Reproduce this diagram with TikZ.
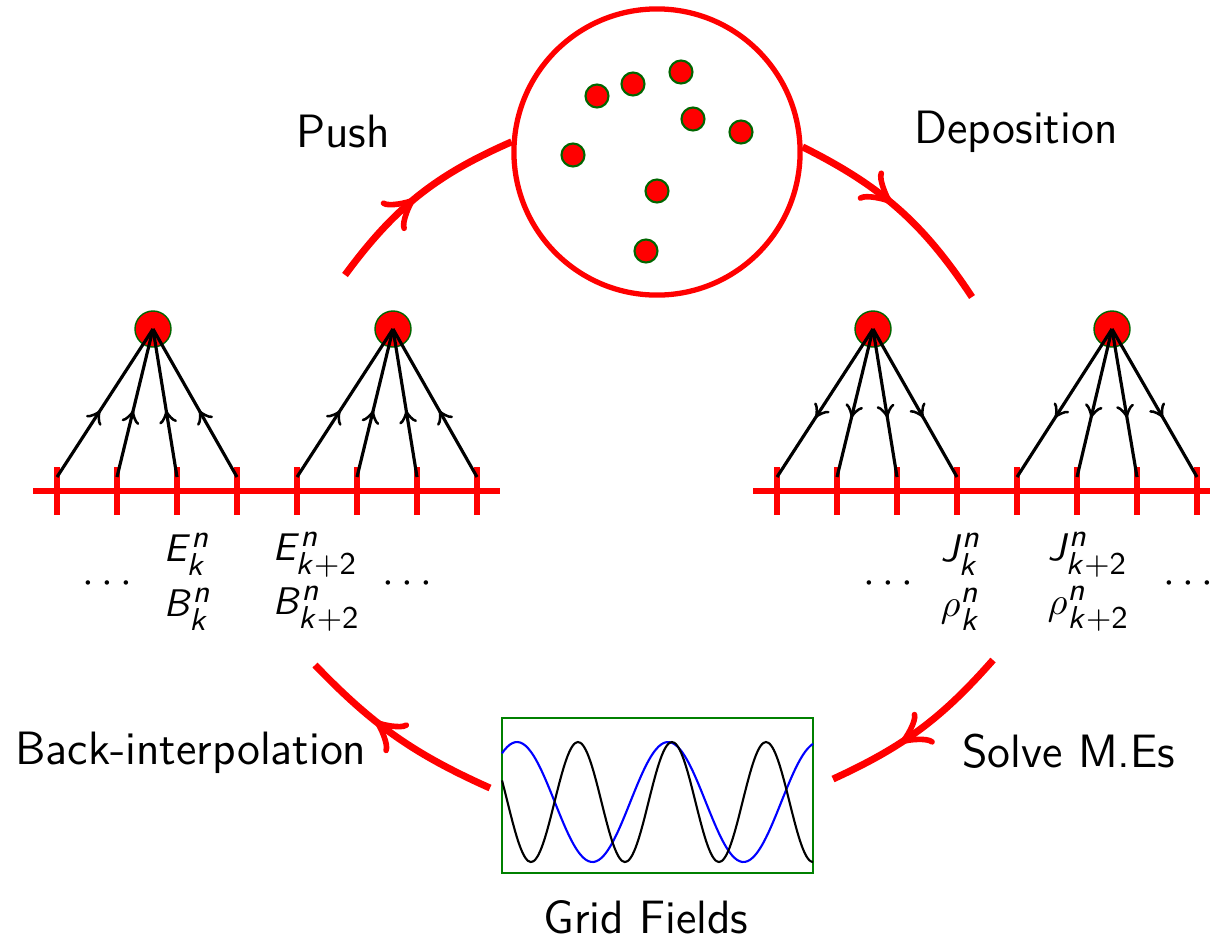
\documentclass[tikz,border=0pt]{standalone}
\usepackage{amsmath}
\usepackage{tikz}
\usetikzlibrary{arrows.meta,positioning,decorations.markings}
\DeclareMathAlphabet{\mathsfit}{OT1}{cmss}{m}{sl}
\DeclareMathSizes{11}{11}{9}{7}
\newcommand{\fk}[1]{$\mathsfit{#1}^{\mathsfit{n}}_{\mathsfit{k}}$}
\newcommand{\fkk}[1]{$\mathsfit{#1}^{\mathsfit{n}}_{\mathsfit{k}\mathsf{+2}}$}
\tikzset{
  cycarrow/.style={color=red, line width=2pt, postaction={decorate},
    decoration={markings, mark=at position #1 with {\arrow{Classical TikZ Rightarrow[length=3mm,width=3.8mm]}}}},
  cycarrow/.default=0.5,
  weightline/.style={black, line width=0.9pt, postaction={decorate},
    decoration={markings, mark=at position #1 with {\arrow{Classical TikZ Rightarrow[length=1.3mm,width=1.8mm]}}}},
  gridline/.style={red, line width=1.6pt},
  gridtick/.style={red, line width=1.8pt},
  swarm/.style={circle, draw=red, line width=1.5pt, minimum size=2.86cm, inner sep=0pt},
  gridpart/.style={circle, fill=red, draw=green!40!black, line width=0.4pt, minimum size=0.36cm, inner sep=0pt},
  swarmpart/.style={circle, fill=red, draw=green!40!black, line width=0.6pt, minimum size=0.23cm, inner sep=0pt},
  fieldbox/.style={draw=green!50!black, line width=0.7pt, minimum width=3.11cm, minimum height=1.55cm, inner sep=0pt},
  steptext/.style={font=\sffamily\fontsize{13.3}{15}\selectfont, anchor=base, inner sep=0pt},
  fieldlbl/.style={font=\fontsize{11}{15.5}\selectfont, align=left, anchor=west, inner sep=0pt},
  dotslbl/.style={font=\fontsize{13}{15}\selectfont, inner sep=0pt}
}

\begin{document}
\begin{tikzpicture}[x=0.01cm, y=-0.01cm]
\useasboundingbox (0,0) rectangle (1210,942);
\clip (0,0) rectangle (1210,942);

% macro-particles in phase space
\node[swarm] (swarm) at (657,152) {};
\foreach \px/\py [count=\n] in {597/96, 633/84, 681/72, 693/119, 741/132, 573/155, 657/191, 646/251}
  \node[swarmpart] (s\n) at (\px,\py) {};

% the two grids
\draw[gridline] (33,491) -- (500,491);
\draw[gridline] (753,491) -- (1215,491);
\foreach \i in {0,...,7} {
  \draw[gridtick] ({57+60*\i},467) -- ({57+60*\i},515);
  \draw[gridtick] ({777+60*\i},467) -- ({777+60*\i},515);
  \coordinate (L\i) at ({57+60*\i},477);
  \coordinate (R\i) at ({777+60*\i},477);
}
\node[gridpart] (pL1) at (153,329) {};
\node[gridpart] (pL2) at (393,329) {};
\node[gridpart] (pR1) at (873,329) {};
\node[gridpart] (pR2) at (1112,329) {};
\foreach \i in {0,...,3} \draw[weightline=0.45] (L\i) -- (pL1.center);
\foreach \i in {4,...,7} \draw[weightline=0.45] (L\i) -- (pL2.center);
\foreach \i in {0,...,3} \draw[weightline=0.6] (pR1.center) -- (R\i);
\foreach \i in {4,...,7} \draw[weightline=0.6] (pR2.center) -- (R\i);

% field values on the grid
\node[dotslbl] (dl1) at (111,584) {$\cdots$};
\node[fieldlbl] (eb1) at (163,582) {\fk{E}\\\fk{B}};
\node[fieldlbl] (eb2) at (272,582) {\fkk{E}\\\fkk{B}};
\node[dotslbl] (dl2) at (411,584) {$\cdots$};
\node[dotslbl] (dr1) at (892,584) {$\cdots$};
\node[fieldlbl] (jr1) at (940,582) {\fk{J}\\\fk{\rho}};
\node[fieldlbl] (jr2) at (1047,582) {\fkk{J}\\\fkk{\rho}};
\node[dotslbl] (dr2) at (1192,584) {$\cdots$};

% grid fields
\node[fieldbox] (grid) at (657.5,795.5) {};
\draw[blue, line width=0.6pt] plot[domain=502:813, samples=120, smooth, variable=\x] (\x, {802-60*cos((\x-517)/151*360)});
\draw[black, line width=0.6pt] plot[domain=502:813, samples=120, smooth, variable=\x] (\x, {802-60*cos((\x-578)/94*360)});

% step names
\node[steptext] (push) at (343,147) {Push};
\node[steptext] (depo) at (1016,143) {Deposition};
\node[steptext] (back) at (191,764) {Back-interpolation};
\node[steptext] (solve) at (1069,767) {Solve M.Es};
\node[steptext] (gfl) at (646,933) {Grid Fields};

% the cycle
\coordinate (pushfrom) at (345,275);
\coordinate (depto) at (972,297);
\coordinate (solvefrom) at (993,660);
\coordinate (solveto) at (833,779);
\coordinate (backfrom) at (490,788);
\coordinate (backto) at (315,665);
\draw[cycarrow=0.48] (pushfrom) to[bend left=15] (swarm.176);
\draw[cycarrow=0.46] (swarm.2) to[bend left=15] (depto);
\draw[cycarrow=0.62] (solvefrom) to[bend left=12] (solveto);
\draw[cycarrow=0.62] (backfrom) to[bend left=11] (backto);
\end{tikzpicture}
\end{document}
